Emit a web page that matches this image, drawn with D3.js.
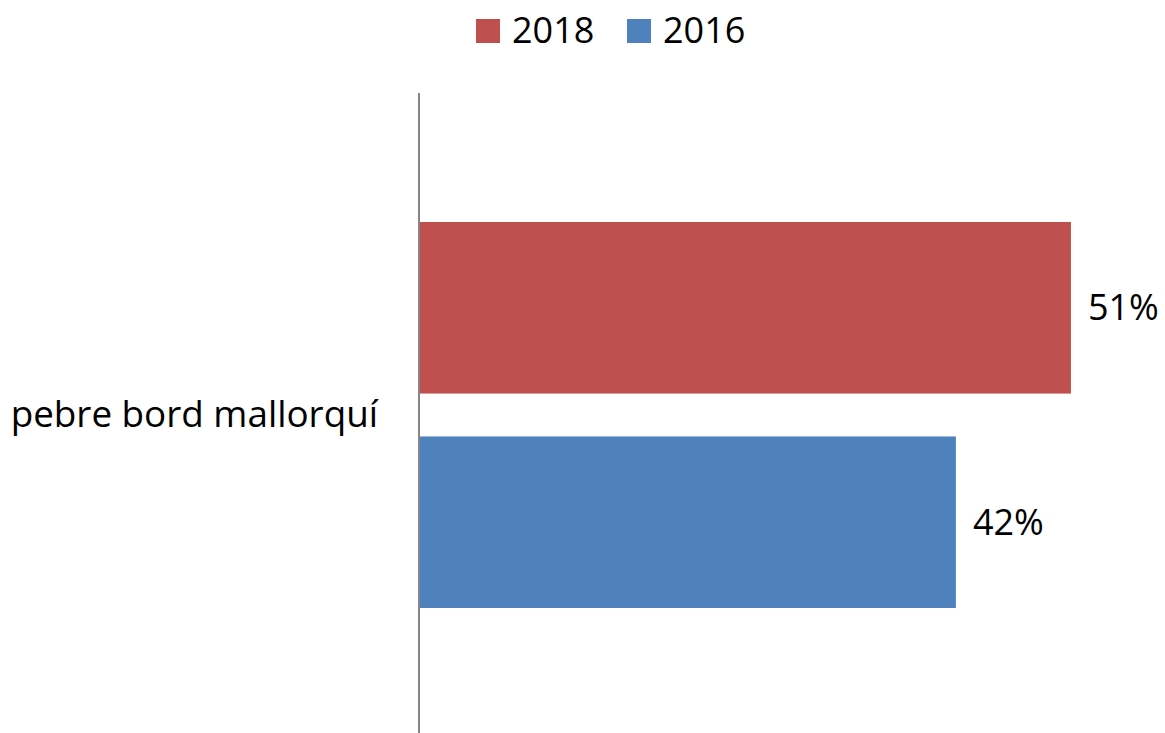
<!DOCTYPE html>
<html>
<head>
<meta charset="utf-8">
<script src="https://cdn.jsdelivr.net/npm/d3@7"></script>
<style>
  body { margin: 0; background: #fff; }
  text { font-family: "Open Sans", sans-serif; fill: #000; }
</style>
</head>
<body>
<div id="container"></div>
<script>
let w = 1165;
let h = 733;

// data
let categories = ["pebre bord mallorquí"];
let seriesNames = ["2018", "2016"];
let values2018 = [0.51];
let values2016 = [0.42];
let seriesColors = ["#C0504D", "#4F81BD"];

let viz = d3.select("#container")
  .append("svg")
    .attr("width", w)
    .attr("height", h)
;

let axisX = 419;

// x scale, percent -> pixels
let xScale = d3.scaleLinear().domain([0, 0.6]).range([axisX, axisX + 767]);

// category band
let yScale = d3.scaleBand().domain(categories).range([95, 735]).padding(0);

// series band inside category
let ySub = d3.scaleBand().domain(seriesNames)
  .range([127, yScale.bandwidth() - 127])
  .paddingInner(0.2);

let rows = [];
categories.forEach(function(c, i){
  rows.push({cat: c, series: "2018", value: values2018[i], color: seriesColors[0]});
  rows.push({cat: c, series: "2016", value: values2016[i], color: seriesColors[1]});
});

// bars
viz.selectAll(".bar").data(rows).enter()
  .append("rect")
    .attr("class", "bar")
    .attr("x", xScale(0))
    .attr("y", function(d){ return yScale(d.cat) + ySub(d.series); })
    .attr("width", function(d){ return xScale(d.value) - xScale(0); })
    .attr("height", ySub.bandwidth())
    .attr("fill", function(d){ return d.color; })
;

// value labels
viz.selectAll(".lbl").data(rows).enter()
  .append("text")
    .attr("class", "lbl")
    .attr("x", function(d){ return xScale(d.value) + 17; })
    .attr("y", function(d){ return yScale(d.cat) + ySub(d.series) + ySub.bandwidth() / 2; })
    .attr("dy", "0.35em")
    .attr("font-size", "36px")
    .text(function(d){ return Math.round(d.value * 100) + "%"; })
;

// vertical category axis
let yAxis = d3.axisLeft(yScale).tickSize(0).tickPadding(41);
let yAxisGroup = viz.append("g")
  .attr("transform", "translate(" + axisX + ",0)")
  .call(yAxis);
yAxisGroup.select(".domain").attr("stroke", "#868686").attr("stroke-width", 2);
yAxisGroup.selectAll(".tick text")
  .attr("font-family", "Open Sans, sans-serif")
  .attr("font-size", "36.8px")
  .attr("fill", "#000");
yAxisGroup.select(".domain").attr("d", "M0,93V733");

// legend
let legendX = [476, 627];
let legend = viz.selectAll(".leg").data(seriesNames).enter()
  .append("g")
    .attr("class", "leg")
    .attr("transform", function(d, i){ return "translate(" + legendX[i] + ",19)"; })
;
legend.append("rect")
  .attr("width", 24)
  .attr("height", 24)
  .attr("fill", function(d, i){ return seriesColors[i]; });
legend.append("text")
  .attr("x", 36)
  .attr("y", 24)
  .attr("font-size", "36px")
  .text(function(d){ return d; });
</script>
</body>
</html>
